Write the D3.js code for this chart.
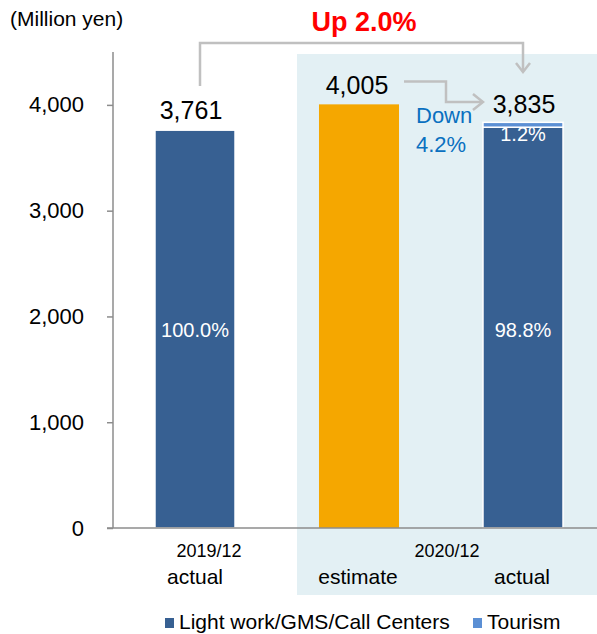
<!DOCTYPE html>
<html>
<head>
<meta charset="utf-8">
<script src="https://cdn.jsdelivr.net/npm/d3@7/dist/d3.min.js"></script>
<style>
  html, body { margin: 0; padding: 0; background: #fff; }
  svg { display: block; font-family: Arial, "Liberation Sans", sans-serif; }
</style>
</head>
<body>
<svg id="chart" width="597" height="634"></svg>
<script>
// Sales by period (million yen)
const categories = ["2019/12 actual", "2020/12 estimate", "2020/12 actual"];
const periodLabels = ["2019/12", "2020/12"];
const kindLabels = ["actual", "estimate", "actual"];
const lightWork = [3761, 0, 3789];   // Light work/GMS/Call Centers
const tourism = [0, 0, 46];           // Tourism
const estimate = [0, 4005, 0];        // plan figure
const totals = [3761, 4005, 3835];
const lightShare = ["100.0%", null, "98.8%"];
const tourismShare = [null, null, "1.2%"];
const yTicks = [0, 1000, 2000, 3000, 4000];
const legendItems = ["Light work/GMS/Call Centers", "Tourism"];

const C = {
  navy: "#376092",
  tourism: "#5b8fd4",
  orange: "#f5a700",
  shade: "#e3f0f4",
  axis: "#8c8c8c",
  arrow: "#c0c0c0",
  red: "#ff0000",
  blue: "#0a70c0"
};

const svg = d3.select("#chart");

const y = d3.scaleLinear().domain([0, 4500]).range([528, 52]);
const x = d3.scaleBand().domain(categories).range([113, 605])
  .paddingInner(0.512).paddingOuter(0.256);
const mid = i => x(categories[i]) + x.bandwidth() / 2;

// shaded panel behind the 2020/12 columns
svg.append("rect")
  .attr("x", 297).attr("y", 54).attr("width", 300).attr("height", 541)
  .attr("fill", C.shade);

// y axis
const yAxis = d3.axisLeft(y).tickValues(yTicks)
  .tickFormat(d3.format(",")).tickSize(6).tickPadding(23);
const gy = svg.append("g").attr("transform", "translate(113,0)").call(yAxis);
gy.select(".domain").remove();
gy.selectAll(".tick line").attr("stroke", C.axis).attr("stroke-width", 1.5);
gy.selectAll(".tick text").attr("font-size", 22).attr("fill", "#000")
  .attr("font-family", "Arial, 'Liberation Sans', sans-serif");
svg.append("line").attr("x1", 113).attr("x2", 113).attr("y1", y(4500)).attr("y2", y(0))
  .attr("stroke", C.axis).attr("stroke-width", 1.5);

// stacked segments
const stackData = categories.map((c, i) => ({ cat: c, light: lightWork[i], tourism: tourism[i] }));
const series = d3.stack().keys(["light", "tourism"])(stackData);
const fills = { light: C.navy, tourism: C.tourism };
const layers = {};
series.forEach(s => { layers[s.key] = svg.append("g"); });

// estimate column
svg.append("g").selectAll("rect")
  .data(categories.map((c, i) => ({ cat: c, v: estimate[i] })).filter(d => d.v > 0))
  .join("rect")
  .attr("x", d => x(d.cat))
  .attr("width", x.bandwidth())
  .attr("y", d => y(d.v))
  .attr("height", d => y(0) - y(d.v))
  .attr("fill", C.orange);

// share labels inside columns
svg.append("g").selectAll("text")
  .data(lightShare.map((t, i) => ({ t, i })).filter(d => d.t))
  .join("text")
  .attr("x", d => mid(d.i))
  .attr("y", 337)
  .attr("text-anchor", "middle")
  .attr("font-size", 20)
  .attr("fill", "#fff")
  .text(d => d.t);

const drawSeries = key => {
  const s = series.find(z => z.key === key);
  layers[key].selectAll("rect")
    .data(s.filter(d => d[1] - d[0] > 0))
    .join("rect")
    .attr("x", d => x(d.data.cat))
    .attr("width", x.bandwidth())
    .attr("y", d => y(d[1]))
    .attr("height", d => y(d[0]) - y(d[1]))
    .attr("fill", fills[key])
    .attr("stroke", "#fff").attr("stroke-width", 1.5);
};
drawSeries("light");

// tourism share sits just under the thin top segment
svg.append("g").selectAll("text")
  .data(tourismShare.map((t, i) => ({ t, i })).filter(d => d.t))
  .join("text")
  .attr("x", d => mid(d.i))
  .attr("y", d => y(totals[d.i]) + 19)
  .attr("text-anchor", "middle")
  .attr("font-size", 20)
  .attr("fill", "#fff")
  .text(d => d.t);
layers.tourism.raise();
drawSeries("tourism");

// x axis baseline
svg.append("line").attr("x1", 107).attr("x2", 597).attr("y1", y(0)).attr("y2", y(0))
  .attr("stroke", C.axis).attr("stroke-width", 1.5);

// totals above columns
const totalOffsets = [-4, -2, 1];
const totalLift = [11, 10, 9];
svg.append("g").selectAll("text")
  .data(totals)
  .join("text")
  .attr("x", (d, i) => mid(i) + totalOffsets[i])
  .attr("y", (d, i) => y(d) - totalLift[i])
  .attr("text-anchor", "middle")
  .attr("font-size", 25)
  .attr("fill", "#000")
  .text(d3.format(","));

// year-on-year connector
const cx0 = mid(0) + 5;
const cx2 = mid(2);
svg.append("path")
  .attr("d", `M${cx0},86 V43 H${cx2} V72`)
  .attr("fill", "none").attr("stroke", C.arrow).attr("stroke-width", 2.5);
svg.append("path")
  .attr("d", `M${cx2 - 7},63 L${cx2},72 L${cx2 + 7},63`)
  .attr("fill", "none").attr("stroke", C.arrow).attr("stroke-width", 2.5);
svg.append("text")
  .attr("x", 364).attr("y", 31)
  .attr("text-anchor", "middle")
  .attr("font-size", 27).attr("font-weight", "bold")
  .attr("fill", C.red)
  .text("Up 2.0%");

// estimate-vs-actual connector
const ax0 = x(categories[1]) + x.bandwidth() + 5;
const ax1 = x(categories[2]);
svg.append("path")
  .attr("d", `M${ax0},81.5 H446 V102 H${ax1}`)
  .attr("fill", "none").attr("stroke", C.arrow).attr("stroke-width", 2.5);
svg.append("path")
  .attr("d", `M${ax1 - 10},94 L${ax1},102 L${ax1 - 10},110`)
  .attr("fill", "none").attr("stroke", C.arrow).attr("stroke-width", 2.5);
svg.append("text").attr("x", 416).attr("y", 123)
  .attr("font-size", 22).attr("fill", C.blue).text("Down");
svg.append("text").attr("x", 416).attr("y", 152)
  .attr("font-size", 22).attr("fill", C.blue).text("4.2%");

// axis title
svg.append("text").attr("x", 10).attr("y", 26)
  .attr("font-size", 21).attr("fill", "#000").text("(Million yen)");

// category labels
svg.append("text").attr("x", 209).attr("y", 557).attr("text-anchor", "middle")
  .attr("font-size", 18).attr("fill", "#000").text(periodLabels[0]);
svg.append("text").attr("x", 447).attr("y", 557).attr("text-anchor", "middle")
  .attr("font-size", 18).attr("fill", "#000").text(periodLabels[1]);
const kindShift = [0, -1, -1];
svg.append("g").selectAll("text")
  .data(kindLabels)
  .join("text")
  .attr("x", (d, i) => mid(i) + kindShift[i])
  .attr("y", 584)
  .attr("text-anchor", "middle")
  .attr("font-size", 21)
  .attr("fill", "#000")
  .text(d => d);

// legend
const legendX = [165, 473];
const legendColors = [C.navy, C.tourism];
const lg = svg.append("g").selectAll("g").data(legendItems).join("g")
  .attr("transform", (d, i) => `translate(${legendX[i]},618)`);
lg.append("rect").attr("width", 9).attr("height", 10).attr("fill", (d, i) => legendColors[i]);
lg.append("text").attr("x", 14).attr("y", 11).attr("font-size", 21).attr("fill", "#000").text(d => d);
</script>
</body>
</html>
